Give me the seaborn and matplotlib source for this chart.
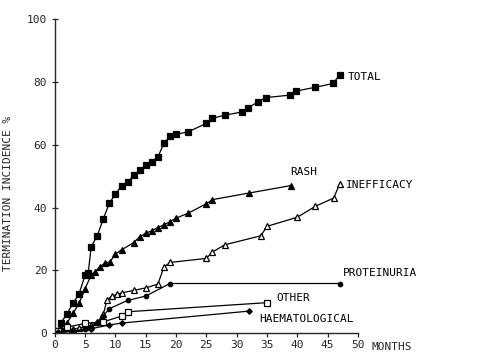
import pandas as pd
import matplotlib
matplotlib.use("Agg")
import matplotlib.pyplot as plt
import seaborn as sns

# values (months, termination incidence %)
total_m = [0.5, 1, 2, 3, 4, 5, 5.5, 6, 7, 8, 9, 10, 11, 12, 13, 14, 15, 16, 17, 18, 19, 20,
           22, 25, 26, 28, 30.8, 31.8, 33.6, 34.8, 38.8, 39.8, 43, 45.9, 47]
total_v = [0.8, 3.2, 6.2, 9.5, 12.5, 18.5, 19.0, 27.5, 31.0, 36.4, 41.4, 44.3, 46.8, 48.0, 50.2,
           51.8, 53.4, 54.6, 56.1, 60.4, 62.7, 63.3, 64.1, 66.8, 68.4, 69.4, 70.4, 71.7, 73.7,
           75.0, 75.8, 77.1, 78.3, 79.5, 82.2]

rash_m = [0.5, 1, 2, 3, 4, 5, 6, 6.6, 7.4, 8.2, 9.1, 10, 11, 13, 14, 15, 16, 17, 18, 19, 20,
          22, 25, 26, 32, 39]
rash_v = [0.8, 1.6, 3.2, 6.3, 9.5, 14.2, 18.5, 19.5, 21.1, 22.2, 22.7, 25.2, 26.5, 28.8, 30.7,
          31.8, 32.6, 33.6, 34.5, 35.5, 36.6, 38.2, 41.2, 42.5, 44.6, 47.0]

ineff_m = [0.5, 1, 2, 3, 4, 5, 6, 7, 8, 8.6, 9.4, 10.2, 11, 13, 15, 17, 18, 19, 25, 26, 28,
           34, 35, 40, 43, 46, 47]
ineff_v = [0.3, 0.6, 1.0, 1.3, 1.6, 1.9, 2.5, 3.5, 6.0, 10.5, 11.8, 12.3, 12.8, 13.6, 14.4,
           15.6, 21.0, 22.5, 23.8, 25.8, 28.1, 31.0, 34.0, 36.9, 40.4, 43.0, 47.5]

prot_m = [0.5, 3, 5, 6, 7, 8, 9, 12, 15, 19, 47]
prot_v = [0.3, 0.6, 1.3, 2.0, 3.2, 5.5, 7.8, 10.4, 11.8, 15.8, 15.8]

other_m = [0.5, 2, 5, 8, 11, 12, 35]
other_v = [0.6, 1.9, 3.1, 3.6, 5.4, 6.8, 9.7]

haem_m = [0.5, 3, 6, 9, 11, 32]
haem_v = [0.2, 0.6, 1.4, 2.6, 3.2, 7.0]

labels = ["TOTAL", "RASH", "INEFFICACY", "PROTEINURIA", "OTHER", "HAEMATOLOGICAL"]
label_x = [48.3, 38.8, 48.0, 47.5, 36.6, 33.8]
label_y = [81.5, 51.3, 47.1, 19.2, 11.2, 4.4]

series = {
    "TOTAL": (total_m, total_v),
    "RASH": (rash_m, rash_v),
    "INEFFICACY": (ineff_m, ineff_v),
    "PROTEINURIA": (prot_m, prot_v),
    "OTHER": (other_m, other_v),
    "HAEMATOLOGICAL": (haem_m, haem_v),
}
styles = {
    "TOTAL": dict(marker="s", ms=4.3, mfc="black"),
    "RASH": dict(marker="^", ms=4.5, mfc="black"),
    "INEFFICACY": dict(marker="^", ms=4.5, mfc="white"),
    "PROTEINURIA": dict(marker="o", ms=3.2, mfc="black"),
    "OTHER": dict(marker="s", ms=4.3, mfc="white"),
    "HAEMATOLOGICAL": dict(marker="D", ms=2.8, mfc="black"),
}

rows = []
for name, (m, v) in series.items():
    for a, b in zip(m, v):
        rows.append({"series": name, "months": a, "pct": b})
df = pd.DataFrame(rows)

sns.set_style("ticks")
plt.rcParams["font.family"] = ["DejaVu Sans Mono"]

fig = plt.figure(figsize=(4.81, 3.54), dpi=100)
ax = fig.add_axes([0.114, 0.059, 0.630, 0.887])

for name in series:
    sub = df[df["series"] == name]
    st = styles[name]
    sns.lineplot(data=sub, x="months", y="pct", ax=ax, color="black", lw=0.9,
                 estimator=None, sort=False, marker=st["marker"], markersize=st["ms"],
                 markerfacecolor=st["mfc"], markeredgecolor="black", markeredgewidth=0.9)

for t, x, y in zip(labels, label_x, label_y):
    ax.text(x, y, t, fontsize=8, va="center", ha="left", color="black")

ax.text(52.3, -4.4, "MONTHS", fontsize=8, va="center", ha="left", clip_on=False)

ax.set_xlim(0, 50)
ax.set_ylim(0, 100)
ax.set_xticks(range(0, 51, 5))
ax.set_yticks(range(0, 101, 20))
ax.set_xlabel("")
ax.set_ylabel("TERMINATION INCIDENCE %", fontsize=8)
ax.yaxis.set_label_coords(-0.139, 0.446)
ax.tick_params(axis="x", direction="out", length=3, width=0.9, labelsize=8, pad=2)
ax.tick_params(axis="y", direction="inout", length=5, width=0.9, labelsize=8, pad=3)
for s in ["top", "right"]:
    ax.spines[s].set_visible(False)
for s in ["left", "bottom"]:
    ax.spines[s].set_linewidth(1.0)

fig.savefig("out.png", dpi=100)
